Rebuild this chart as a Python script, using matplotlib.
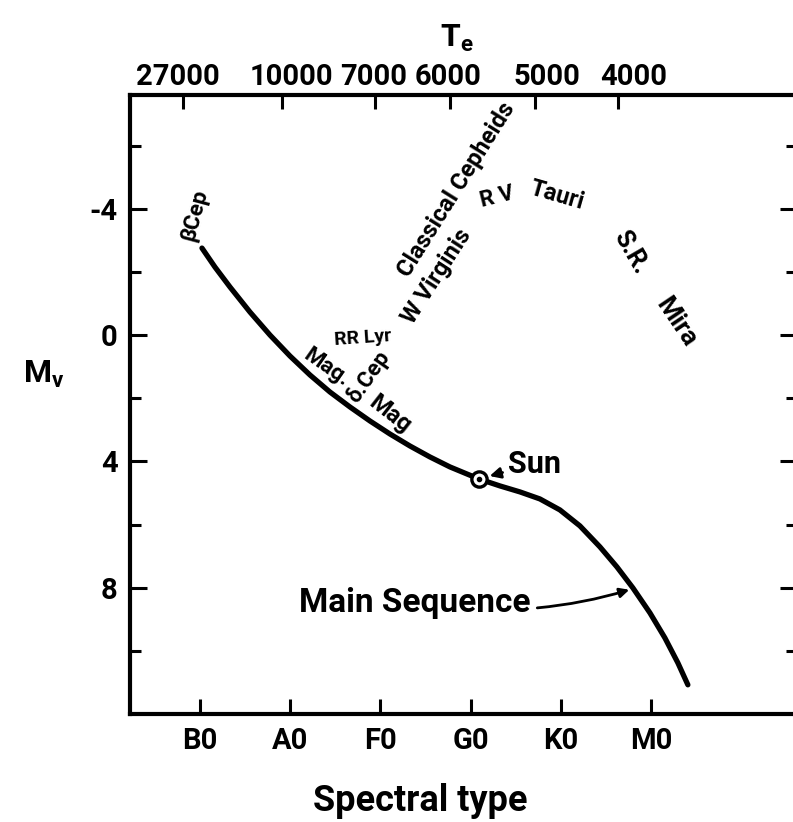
import matplotlib
matplotlib.use("Agg")
import matplotlib.pyplot as plt
from matplotlib.ticker import FixedLocator, NullFormatter, FixedFormatter

plt.rcParams['font.family'] = ['Roboto', 'DejaVu Sans']
plt.rcParams['font.weight'] = 'bold'
plt.rcParams['mathtext.default'] = 'regular'

# ---------------- data ----------------
spectral_types = ["B0", "A0", "F0", "G0", "K0", "M0"]
mv_major = [-4, 0, 4, 8]
mv_minor = [-6, -2, 2, 6, 10]
mv_major_labels = ["-4", "0", "4", "8"]

te_labels = ["27000", "10000", "7000", "6000", "5000", "4000"]
te_tick_spec = [-0.19, 0.91, 1.94, 2.77, 3.71, 4.64]
te_label_spec = [-0.24, 1.01, 1.93, 2.75, 3.85, 4.81]

# main sequence (spectral index, M_v)
ms_spec = [0.022, 0.166, 0.333, 0.554, 0.776, 0.998, 1.220, 1.441, 1.663,
           1.885, 2.106, 2.328, 2.550, 2.772, 3.093, 3.326, 3.548, 3.769,
           3.991, 4.213, 4.435, 4.623, 4.800, 4.989, 5.155, 5.299, 5.410]
ms_mv = [-2.753, -2.152, -1.519, -0.728, 0.000, 0.665, 1.266, 1.804, 2.278,
         2.722, 3.133, 3.513, 3.861, 4.177, 4.557, 4.778, 4.968, 5.190,
         5.538, 6.044, 6.709, 7.342, 8.006, 8.797, 9.589, 10.380, 11.076]

sun_spec, sun_mv = 3.093, 4.557

# variable star class labels
class_names = ["βCep", "Classical Cepheids", "W Virginis", "R V", "Tauri",
               "S.R.", "Mira", "RR Lyr", "δ.Cep", "Mag.", "Mag"]
class_spec = [-0.055, 2.85, 2.63, 3.29, 3.96, 4.77, 5.28, 1.81, 1.87, 1.41, 2.11]
class_mv = [-3.8, -4.60, -1.86, -4.37, -4.43, -2.63, -0.41, 0.09, 1.33, 1.04, 2.50]
class_rot = [75, 58, 57, 14, -16, -60, -56, 4, 55, -35, -38]
class_size = [16, 17, 17, 16, 17, 18, 19, 14, 16, 16, 17]

# ---------------- figure ----------------
fig = plt.figure(figsize=(7.93, 8.22), dpi=100)
ax = fig.add_axes([130 / 793, 108 / 822, 667 / 793, 619 / 822])

ax.set_xlim(-0.776, 6.62)
ax.set_ylim(12.0, -7.6)

for s in ax.spines.values():
    s.set_linewidth(3.0)
ax.spines['right'].set_visible(False)

ax.plot(ms_spec, ms_mv, color='black', lw=3.8, solid_capstyle='round',
        solid_joinstyle='round', zorder=3)

# Sun symbol
ax.plot([sun_spec], [sun_mv], marker='o', ms=11, mfc='white', mec='black',
        mew=2.4, zorder=4)
ax.plot([sun_spec], [sun_mv], marker='o', ms=3, color='black', zorder=5)

# bottom axis
ax.xaxis.set_major_locator(FixedLocator(list(range(len(spectral_types)))))
ax.xaxis.set_major_formatter(FixedFormatter(spectral_types))
ax.tick_params(axis='x', which='major', direction='in', length=11, width=2.2,
               labelsize=21, pad=9, bottom=True, top=False)

# left / right axis
ax.yaxis.set_major_locator(FixedLocator(mv_major))
ax.yaxis.set_minor_locator(FixedLocator(mv_minor))
ax.yaxis.set_major_formatter(FixedFormatter(mv_major_labels))
ax.tick_params(axis='y', which='major', direction='in', length=12, width=2.2,
               labelsize=21, pad=9, left=True, right=True)
ax.tick_params(axis='y', which='minor', direction='in', length=8, width=2.2,
               left=True, right=True)

# top axis (effective temperature)
ax2 = ax.twiny()
ax2.set_xlim(ax.get_xlim())
for s in ax2.spines.values():
    s.set_visible(False)
ax2.xaxis.set_major_locator(FixedLocator(te_label_spec))
ax2.xaxis.set_major_formatter(FixedFormatter(te_labels))
ax2.xaxis.set_minor_locator(FixedLocator(te_tick_spec))
ax2.xaxis.set_minor_formatter(NullFormatter())
ax2.tick_params(axis='x', which='major', length=0, labelsize=21, pad=3)
ax2.tick_params(axis='x', which='minor', direction='in', length=10, width=2.2)

# axis labels
ax.set_xlabel("Spectral type", fontsize=26, fontweight='bold')
ax.xaxis.set_label_coords(0.435, -0.112)
ax.set_ylabel("M$_{v}$", fontsize=23, fontweight='bold', rotation=0)
ax.yaxis.set_label_coords(-0.13, 0.523)
ax2.set_xlabel("T$_{e}$", fontsize=23, fontweight='bold')
ax2.xaxis.set_label_coords(0.49, 1.078)

# class labels
for name, xs, ys, r, fs in zip(class_names, class_spec, class_mv, class_rot,
                               class_size):
    ax.text(xs, ys, name, rotation=r, rotation_mode='anchor', ha='center',
            va='center', fontsize=fs, fontweight='bold', zorder=6)

# Sun annotation
ax.annotate("Sun", xy=(sun_spec, sun_mv), xytext=(3.71, 4.08),
            ha='center', va='center', fontsize=22, fontweight='bold',
            arrowprops=dict(arrowstyle='-|>', color='black', lw=2,
                            shrinkA=2, shrinkB=8, mutation_scale=16))

# Main sequence annotation
ax.annotate("Main Sequence", xy=(4.79, 8.04), xytext=(2.38, 8.48),
            ha='center', va='center', fontsize=24, fontweight='bold',
            arrowprops=dict(arrowstyle='-|>', color='black', lw=2,
                            shrinkA=3, shrinkB=2, mutation_scale=14,
                            connectionstyle='arc3,rad=0.12'))

fig.savefig("out.png", dpi=100)
